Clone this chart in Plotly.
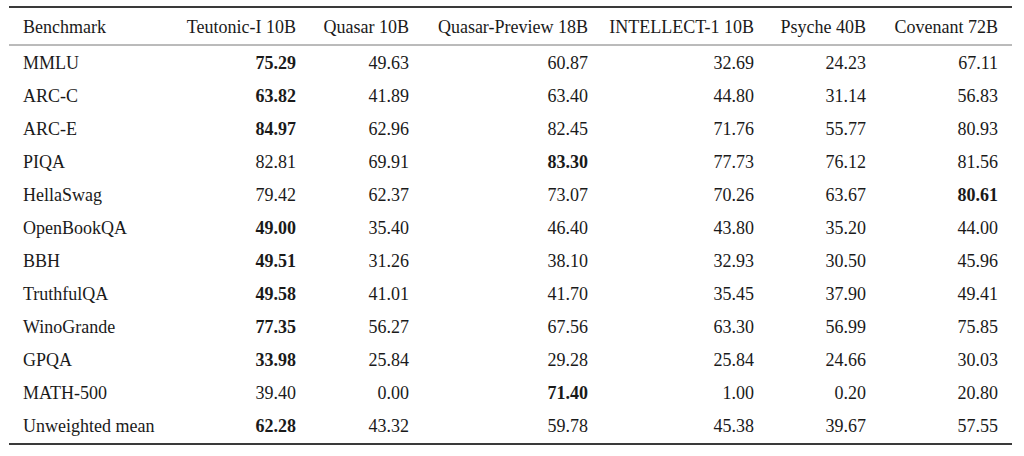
import plotly.graph_objects as go

benchmarks = ["MMLU", "ARC-C", "ARC-E", "PIQA", "HellaSwag", "OpenBookQA", "BBH",
              "TruthfulQA", "WinoGrande", "GPQA", "MATH-500", "Unweighted mean"]
models = ["Teutonic-I 10B", "Quasar 10B", "Quasar-Preview 18B", "INTELLECT-1 10B",
          "Psyche 40B", "Covenant 72B"]
teutonic = [75.29, 63.82, 84.97, 82.81, 79.42, 49.00, 49.51, 49.58, 77.35, 33.98, 39.40, 62.28]
quasar = [49.63, 41.89, 62.96, 69.91, 62.37, 35.40, 31.26, 41.01, 56.27, 25.84, 0.00, 43.32]
quasar_preview = [60.87, 63.40, 82.45, 83.30, 73.07, 46.40, 38.10, 41.70, 67.56, 29.28, 71.40, 59.78]
intellect = [32.69, 44.80, 71.76, 77.73, 70.26, 43.80, 32.93, 35.45, 63.30, 25.84, 1.00, 45.38]
psyche = [24.23, 31.14, 55.77, 76.12, 63.67, 35.20, 30.50, 37.90, 56.99, 24.66, 0.20, 39.67]
covenant = [67.11, 56.83, 80.93, 81.56, 80.61, 44.00, 45.96, 49.41, 75.85, 30.03, 20.80, 57.55]

series = [teutonic, quasar, quasar_preview, intellect, psyche, covenant]

# layout (pixel positions)
W, H = 1024, 456
col_right = [296, 409, 588, 754, 866, 998]
label_left = 23
row0, row_step = 64.3, 33.0
header_px = 28

def yi(px):
    return (px - row0) / row_step

FONT = "Liberation Serif"
FS = 18
TXT = "#1a1a1a"

fig = go.Figure()

# header
fig.add_trace(go.Scatter(x=[label_left], y=[yi(header_px)], mode="text", text=["Benchmark"],
                         textposition="middle right", textfont=dict(family=FONT, size=FS, color=TXT),
                         hoverinfo="skip", showlegend=False))
fig.add_trace(go.Scatter(x=col_right, y=[yi(header_px)] * len(models), mode="text", text=models,
                         textposition="middle left", textfont=dict(family=FONT, size=FS, color=TXT),
                         hoverinfo="skip", showlegend=False))

rows = list(range(len(benchmarks)))
fig.add_trace(go.Scatter(x=[label_left] * len(benchmarks), y=rows, mode="text", text=benchmarks,
                         textposition="middle right", textfont=dict(family=FONT, size=FS, color=TXT),
                         hoverinfo="skip", showlegend=False))

for j, vals in enumerate(series):
    texts = []
    for i, v in enumerate(vals):
        best = max(s[i] for s in series)
        t = f"{v:.2f}"
        texts.append(f"<b>{t}</b>" if v == best else t)
    fig.add_trace(go.Scatter(x=[col_right[j]] * len(vals), y=rows, mode="text", text=texts,
                             textposition="middle left",
                             textfont=dict(family=FONT, size=FS, color=TXT),
                             hoverinfo="skip", showlegend=False))

# booktabs rules
line_col = "#3a3a3a"
fig.add_shape(type="line", xref="x", yref="y", x0=9, x1=1012, y0=yi(7), y1=yi(7),
              line=dict(color=line_col, width=2))
fig.add_shape(type="line", xref="x", yref="y", x0=9, x1=1012, y0=yi(45), y1=yi(45),
              line=dict(color="#777777", width=1))
fig.add_shape(type="line", xref="x", yref="y", x0=9, x1=1012, y0=yi(444), y1=yi(444),
              line=dict(color=line_col, width=2))

fig.update_layout(
    width=W, height=H, margin=dict(l=0, r=0, t=0, b=0),
    paper_bgcolor="white", plot_bgcolor="white",
    xaxis=dict(range=[0, W], visible=False, fixedrange=True),
    yaxis=dict(range=[yi(H), yi(0)], visible=False, fixedrange=True),
)

fig.write_html("out.html", config={"displayModeBar": False},
               post_script="document.body.style.margin='0';document.body.style.overflow='hidden';")
